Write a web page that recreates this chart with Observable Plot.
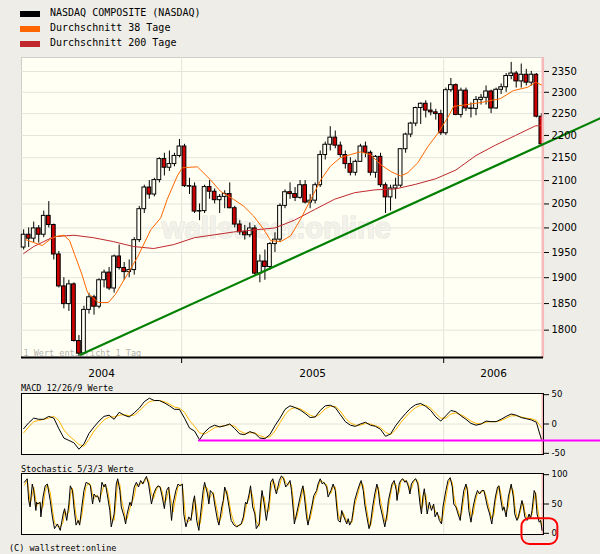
<!DOCTYPE html>
<html><head><meta charset="utf-8">
<script src="https://cdn.jsdelivr.net/npm/d3@7"></script>
<script src="https://cdn.jsdelivr.net/npm/@observablehq/plot@0.6"></script>
<style>
html,body{margin:0;padding:0;background:#eeede7;}
#wrap{position:relative;width:600px;height:554px;overflow:hidden;background:#eeede7;}
.abs{position:absolute;}
.mono{font-family:"DejaVu Sans Mono",monospace;color:#000;white-space:nowrap;}
svg{overflow:visible;}
</style></head>
<body><div id="wrap"></div>
<script>
// ---------- DATA ----------
const legendNames = ["NASDAQ COMPOSITE (NASDAQ)", "Durchschnitt 38 Tage", "Durchschnitt 200 Tage"];
const legendColors = ["#000000", "#ff6600", "#c0282d"];

const weekDates = [
"2004-05-26","2004-06-02","2004-06-09","2004-06-16","2004-06-23","2004-06-30","2004-07-07","2004-07-14","2004-07-21","2004-07-28",
"2004-08-04","2004-08-11","2004-08-18","2004-08-25","2004-09-01","2004-09-08","2004-09-15","2004-09-22","2004-09-29","2004-10-06",
"2004-10-13","2004-10-20","2004-10-27","2004-11-03","2004-11-10","2004-11-17","2004-11-24","2004-12-01","2004-12-08","2004-12-15",
"2004-12-22","2004-12-29","2005-01-05","2005-01-12","2005-01-19","2005-01-26","2005-02-02","2005-02-09","2005-02-16","2005-02-23",
"2005-03-02","2005-03-09","2005-03-16","2005-03-23","2005-03-30","2005-04-06","2005-04-13","2005-04-20","2005-04-27","2005-05-04",
"2005-05-11","2005-05-18","2005-05-25","2005-06-01","2005-06-08","2005-06-15","2005-06-22","2005-06-29","2005-07-06","2005-07-13",
"2005-07-20","2005-07-27","2005-08-03","2005-08-10","2005-08-17","2005-08-24","2005-08-31","2005-09-07","2005-09-14","2005-09-21",
"2005-09-28","2005-10-05","2005-10-12","2005-10-19","2005-10-26","2005-11-02","2005-11-09","2005-11-16","2005-11-23","2005-11-30",
"2005-12-07","2005-12-14","2005-12-21","2005-12-28","2006-01-04","2006-01-11","2006-01-18","2006-01-25","2006-02-01","2006-02-08",
"2006-02-15","2006-02-22","2006-03-01","2006-03-08","2006-03-15","2006-03-22","2006-03-29","2006-04-05","2006-04-12","2006-04-19",
"2006-04-26","2006-05-03","2006-05-10","2006-05-17"];

const priceOpen = [1960,1986,1978,1999,1986,2025,2006,1946,1883,1849,1887,1780,1757,1838,1862,1844,1895,1910,1879,1942,
1919,1911,1915,1975,2039,2085,2070,2101,2147,2128,2136,2154,2175,2088,2087,2034,2035,2086,2076,2058,
2065,2071,2041,2007,1991,1985,1999,1908,1932,1921,1967,1976,2046,2075,2071,2063,2090,2053,2057,2090,
2156,2179,2195,2177,2156,2136,2117,2141,2175,2161,2117,2152,2090,2064,2083,2089,2169,2202,2227,2263,
2273,2257,2253,2249,2205,2305,2317,2247,2304,2262,2261,2282,2287,2302,2262,2306,2312,2339,2345,2326,
2342,2323,2342,2243];
const priceHigh = [1996,2000,2012,2005,2035,2055,2008,1952,1900,1895,1890,1790,1845,1870,1866,1898,1915,1920,1945,1965,
1930,1935,1980,2045,2090,2100,2105,2150,2160,2165,2160,2191,2180,2105,2095,2050,2090,2100,2082,2070,
2078,2095,2045,2015,2005,2010,2005,1945,1955,1970,1990,2050,2080,2095,2085,2100,2100,2070,2095,2165,
2185,2220,2210,2185,2165,2150,2145,2180,2185,2165,2155,2160,2095,2090,2105,2170,2205,2230,2265,2275,
2280,2275,2260,2258,2310,2333,2320,2310,2310,2275,2290,2295,2315,2305,2310,2320,2345,2372,2350,2368,
2355,2350,2345,2250];
const priceLow = [1955,1960,1970,1969,1980,2000,1935,1880,1840,1835,1778,1752,1755,1830,1828,1840,1880,1875,1870,1915,
1895,1900,1905,1970,2030,2060,2065,2095,2110,2120,2130,2150,2085,2070,2030,2015,2030,2060,2050,2030,
2040,2040,2000,1985,1975,1980,1905,1890,1895,1915,1950,1970,2040,2060,2055,2060,2050,2040,2050,2085,
2145,2165,2170,2150,2125,2110,2110,2140,2150,2110,2105,2085,2030,2035,2060,2085,2160,2195,2220,2225,
2240,2245,2235,2200,2200,2300,2245,2240,2255,2240,2245,2270,2270,2250,2260,2295,2300,2330,2310,2310,
2315,2315,2240,2175];
const priceClose = [1986,1978,1999,1986,2025,2006,1946,1883,1849,1887,1780,1757,1838,1862,1844,1895,1910,1879,1942,1919,
1911,1915,1975,2039,2085,2070,2101,2147,2128,2136,2154,2175,2088,2087,2034,2035,2086,2076,2058,2065,
2071,2041,2007,1991,1985,1999,1908,1932,1921,1967,1976,2046,2075,2071,2063,2090,2053,2057,2090,2156,
2179,2195,2177,2156,2136,2117,2141,2175,2161,2117,2152,2090,2064,2083,2089,2169,2202,2227,2263,2273,
2257,2253,2249,2205,2305,2317,2247,2304,2262,2261,2282,2287,2302,2262,2306,2312,2339,2345,2326,2342,
2323,2342,2243,2180];

// day offsets relative to 2005-01-01
const ma38Days = [-217,-206,-194,-182,-173,-164,-156,-149,-139,-131,-116,-102,-92,-75,-61,-43,-29,-20,-6,1,
22,40,54,72,86,100,114,124,138,152,166,180,194,207,221,235,249,263,277,291,305,315,329,343,357,371,379,393,417,444,462,482,493,503];
const ma38 = [1976,1970,1964,1978,1983,1985,1974,1946,1907,1871,1852,1852,1868,1908,1942,1996,2021,2060,2110,2128,
2130,2102,2077,2060,2046,2025,1998,1974,1972,1984,2019,2060,2102,2131,2150,2157,2163,2157,2135,2120,2110,2117,2139,2175,2205,2242,2267,2270,2276,2285,2304,2312,2324,2316];
const ma200Days = [-220,-206,-192,-178,-150,-123,-95,-67,-39,-11,18,46,74,102,130,157,185,213,241,269,298,326,354,382,410,437,465,493,503];
const ma200 = [1948,1962,1972,1982,1985,1980,1972,1962,1958,1966,1980,1986,1992,1996,2000,2016,2038,2060,2074,2080,2082,2092,2104,2123,2155,2178,2200,2222,2222];

const trendDays = [-141, 584];
const trendValues = [1755, 2240];

const macd = [-8,2,10,8,8,13,10,-8,-24,-28,-32,-43,-34,-16,-5,5,13,15,8,20,
15,12,19,27,38,44,40,40,36,31,25,25,10,-7,-12,-27,-14,-6,-2,-5,
-3,0,-8,-17,-18,-13,-16,-24,-25,-18,-3,10,25,31,28,24,18,11,12,23,
31,32,28,16,4,-2,-4,0,3,-2,-4,-9,-21,-17,-3,8,18,27,33,35,
30,23,12,5,14,23,21,14,8,1,-2,0,5,4,4,8,13,17,15,11,9,7,3,-26];
const macdSignal = [-15,-5,4,6,8,10,13,6,-10,-20,-27,-35,-38,-26,-12,-2,7,12,12,15,
16,14,15,22,31,38,40,40,38,34,29,27,20,6,-4,-15,-17,-12,-6,-4,
-3,-1,-4,-12,-16,-15,-15,-20,-23,-22,-12,2,16,25,28,26,21,15,12,17,
26,30,30,22,10,2,-2,-2,1,0,-3,-6,-14,-18,-10,2,12,21,28,32,
32,27,18,10,10,17,19,16,11,5,1,0,3,4,4,6,10,14,14,12,10,9,6,-6];
const macdLineDays = [24, 584];
const macdLineValues = [-28, -28];

const stochDays = [-219,-215,-213,-211,-208,-206,-203,-202,-200,-197,-196,-193,-190,-187,-183,-180,-177,-173,-169,-165,
-163,-160,-157,-155,-152,-150,-147,-144,-142,-139,-136,-133,-129,-127,-124,-122,-119,-117,-114,-111,
-108,-106,-103,-100,-98,-94,-91,-89,-86,-84,-80,-78,-76,-72,-70,-66,-63,-60,-57,-54,
-52,-49,-46,-42,-39,-36,-33,-30,-27,-24,-21,-18,-14,-12,-8,-5,-2,1,3,6,
10,13,16,18,21,24,26,30,32,36,38,40,44,46,50,52,56,58,60,63,
66,69,73,77,80,83,86,89,91,94,96,99,102,104,108,110,112,115,118,122,
124,127,130,132,136,139,142,145,148,151,153,156,157,160,163,167,169,171,174,176,
179,182,184,188,190,193,196,198,202,204,208,211,214,216,218,221,223,225,228,230,
232,234,237,239,241,245,248,250,253,255,258,261,263,266,269,272,274,276,280,283,
286,288,291,293,296,299,300,303,305,308,311,313,316,318,320,323,326,329,332,334,
336,338,340,342,345,348,351,353,356,359,362,364,368,371,374,377,379,382,385,388,
390,393,396,398,400,403,406,409,412,415,418,421,423,426,429,432,435,437,440,442,
444,447,449,452,455,457,459,462,464,467,469,471,474,476,478,481,484,486,488,491,
493,495,498,500,502];
const stochK = [87,93,56,45,84,73,39,53,50,53,28,62,81,84,56,28,8,16,5,33,
42,22,50,81,73,45,14,22,14,45,73,87,84,81,50,67,62,64,53,87,
79,84,62,39,11,33,84,93,73,45,28,16,33,53,47,79,87,79,90,84,
90,97,84,50,67,76,81,79,62,42,73,79,22,50,73,84,81,84,33,11,
28,22,53,64,22,5,28,73,87,67,50,73,67,50,22,14,45,56,79,67,
45,22,14,11,14,16,28,53,50,67,81,45,33,8,16,50,73,50,22,56,
87,93,76,67,90,98,93,79,84,90,73,33,16,33,50,73,81,62,28,14,
33,50,64,73,84,93,84,87,79,62,73,84,73,45,22,19,39,31,22,16,
25,14,22,39,56,73,84,90,73,50,28,8,16,45,67,84,73,50,28,11,
33,56,73,84,90,73,56,84,90,93,87,90,79,67,84,90,93,84,50,33,
62,76,56,33,53,39,50,28,36,22,16,45,73,90,95,79,50,45,33,22,
45,73,84,73,39,19,45,62,73,67,73,73,62,45,33,16,45,62,79,81,
62,39,45,28,62,73,84,62,33,22,28,39,56,45,28,22,33,25,39,73,
67,33,19,22,5];
const stochD = [82,90,75,51,65,79,56,46,52,52,41,45,72,83,70,42,18,12,11,19,
38,32,36,66,77,59,30,18,18,30,59,80,86,83,66,59,65,63,59,70,
83,82,73,51,25,22,59,89,83,59,37,22,25,43,50,63,83,83,85,87,
87,94,91,67,59,72,79,80,71,52,58,76,51,36,62,79,83,83,59,22,
20,25,38,59,43,14,17,51,80,77,59,62,70,59,36,18,30,51,68,73,
56,34,18,13,13,15,22,41,52,59,74,63,39,21,12,33,62,62,36,39,
72,90,85,72,79,94,96,86,82,87,82,53,25,25,42,62,77,72,45,21,
24,42,57,69,79,89,89,86,83,71,68,79,79,59,34,21,29,35,27,19,
21,20,18,31,48,65,79,87,82,62,39,18,12,31,56,76,79,62,39,20,
22,45,65,79,87,82,65,70,87,92,90,89,85,73,76,87,92,89,67,42,
48,69,66,45,43,46,45,39,32,29,19,31,59,82,93,87,65,48,39,28,
34,59,79,79,56,29,32,54,68,70,70,73,68,54,39,25,31,54,71,80,
72,51,42,37,45,68,79,73,48,28,25,34,48,51,37,25,28,29,32,56,
70,50,26,21,14];
const markDays = [474, 524];
const markValues = [25, -19];

const priceTicks = [1800,1850,1900,1950,2000,2050,2100,2150,2200,2250,2300,2350];
const macdTicks = [-50, 0, 50];
const stochTicks = [0, 50, 100];
const yearTicks = ["2005-01-01", "2006-01-01"];
const yearLabels = ["2004", "2005", "2006"];

// ---------- BUILD ----------
const BASE = Date.UTC(2005, 0, 1);
const dayToDate = d => new Date(BASE + d * 86400000);
const iso = s => new Date(s + "T00:00:00Z");
const xDomain = [dayToDate(-223), dayToDate(504)];
const lastDate = dayToDate(503);
const yearTickDates = yearTicks.map(iso);

const candles = weekDates.map((s, i) => ({date: iso(s), open: priceOpen[i], high: priceHigh[i], low: priceLow[i], close: priceClose[i]}));
const ma38Data = ma38Days.map((d, i) => ({date: dayToDate(d), v: ma38[i]}));
const ma200Data = ma200Days.map((d, i) => ({date: dayToDate(d), v: ma200[i]}));
const trendData = trendDays.map((d, i) => ({date: dayToDate(d), v: trendValues[i]}));
const macdData = weekDates.map((s, i) => ({date: iso(s), m: macd[i], s: macdSignal[i]}));
const macdLine = macdLineDays.map((d, i) => ({date: dayToDate(d), v: macdLineValues[i]}));
const nS = Math.min(stochDays.length, stochK.length, stochD.length);
const stochData = d3.range(nS).map(i => ({date: dayToDate(stochDays[i]), k: stochK[i], d: stochD[i]}));
const markRect = [{x1: dayToDate(markDays[0]), x2: dayToDate(markDays[1]), y1: markValues[0], y2: markValues[1]}];

// year label positions: middle of the visible part of each year
const yearBounds = [xDomain[0], ...yearTickDates, xDomain[1]];
const yearLabelData = yearLabels.map((t, i) => ({t, date: new Date((+yearBounds[i] + +yearBounds[i + 1]) / 2)}));

const CREAM = "#fffff3";
const GRID = "#e4e4dc";
const PINK = "#f6b8b8";
const GOLD = "#ffb400";
const half = 2.6 * 86400000;

const wrap = document.getElementById("wrap");
function place(node, top) {
  node.style.position = "absolute";
  node.style.left = "0px";
  node.style.top = top + "px";
  wrap.appendChild(node);
}

// main price chart
const main = Plot.plot({
  width: 600, height: 385,
  marginTop: 57, marginBottom: 28, marginLeft: 21, marginRight: 57,
  style: {background: "transparent", fontFamily: "DejaVu Sans", fontSize: "10px", color: "#000", overflow: "visible"},
  x: {type: "utc", domain: xDomain, axis: null},
  y: {type: "log", domain: [1750, 2384], axis: null},
  marks: [
    Plot.frame({fill: CREAM, stroke: "#cfcfc8"}),
    Plot.gridY(priceTicks, {stroke: GRID, strokeOpacity: 1}),
    Plot.gridX(yearTickDates, {stroke: GRID, strokeOpacity: 1}),
    Plot.text(["wallstreet:online"], {frameAnchor: "middle", dx: -6, dy: 21, fontSize: 29, fontWeight: "bold",
      fontFamily: "Liberation Sans", fill: "#f3f2ea", stroke: "#e5e4db", strokeWidth: 1.2}),
    Plot.text(["1 Wert entspricht 1 Tag"], {frameAnchor: "bottom-left", dx: 2, dy: -2, fontSize: 8.5,
      fontFamily: "DejaVu Sans Mono", fill: "#b4b4b0"}),
    Plot.ruleX(candles, {x: "date", y1: "low", y2: "high", stroke: "#000", strokeWidth: 1}),
    Plot.rect(candles, {x1: d => new Date(+d.date - half), x2: d => new Date(+d.date + half),
      y1: "open", y2: "close", fill: d => d.close < d.open ? "#cc0000" : CREAM, stroke: "#000", strokeWidth: 1}),
    Plot.line(ma200Data, {x: "date", y: "v", stroke: "#c0282d", strokeWidth: 1}),
    Plot.line(ma38Data, {x: "date", y: "v", stroke: "#ff6600", strokeWidth: 1}),
    Plot.ruleX([lastDate], {stroke: PINK, strokeWidth: 2.5}),
    Plot.ruleY([1750], {stroke: "#000", strokeWidth: 2}),
    Plot.line(trendData, {x: "date", y: "v", stroke: "#008000", strokeWidth: 2.2}),
    Plot.axisY(priceTicks, {anchor: "right", tickSize: 5, tickPadding: 3, label: null, tickFormat: d => String(d)}),
    Plot.axisX(yearTickDates, {anchor: "bottom", tickSize: 6, tickFormat: () => "", label: null}),
    Plot.text(yearLabelData, {x: "date", text: "t", frameAnchor: "bottom", dy: 19, fontSize: 10.5})
  ]
});
place(main, 0);

// MACD panel
const macdPlot = Plot.plot({
  width: 600, height: 80,
  marginTop: 13, marginBottom: 6, marginLeft: 21, marginRight: 57,
  style: {background: "transparent", fontFamily: "DejaVu Sans", fontSize: "8.5px", color: "#000", overflow: "visible"},
  x: {type: "utc", domain: xDomain, axis: null},
  y: {domain: [-52, 52], axis: null},
  marks: [
    Plot.frame({fill: CREAM}),
    Plot.gridY([0], {stroke: GRID, strokeOpacity: 1}),
    Plot.gridX(yearTickDates, {stroke: GRID, strokeOpacity: 1}),
    Plot.ruleX([lastDate], {stroke: PINK, strokeWidth: 2.5}),
    Plot.line(macdData, {x: "date", y: "s", stroke: GOLD, strokeWidth: 1}),
    Plot.line(macdData, {x: "date", y: "m", stroke: "#000", strokeWidth: 1}),
    Plot.frame({stroke: "#000"}),
    Plot.line(macdLine, {x: "date", y: "v", stroke: "#ff00ff", strokeWidth: 2}),
    Plot.axisY(macdTicks, {anchor: "right", tickSize: 5, tickPadding: 3, label: null, tickFormat: d => String(d)})
  ]
});
place(macdPlot, 380);

// Stochastic panel
const stochPlot = Plot.plot({
  width: 600, height: 78,
  marginTop: 11, marginBottom: 6, marginLeft: 21, marginRight: 57,
  style: {background: "transparent", fontFamily: "DejaVu Sans", fontSize: "8.5px", color: "#000", overflow: "visible"},
  x: {type: "utc", domain: xDomain, axis: null},
  y: {domain: [-2, 102], axis: null},
  marks: [
    Plot.frame({fill: CREAM}),
    Plot.gridY([50], {stroke: GRID, strokeOpacity: 1}),
    Plot.gridX(yearTickDates, {stroke: GRID, strokeOpacity: 1}),
    Plot.ruleX([lastDate], {stroke: PINK, strokeWidth: 2.5}),
    Plot.line(stochData, {x: "date", y: "d", stroke: GOLD, strokeWidth: 1}),
    Plot.line(stochData, {x: "date", y: "k", stroke: "#000", strokeWidth: 1}),
    Plot.frame({stroke: "#000"}),
    Plot.axisY(stochTicks, {anchor: "right", tickSize: 5, tickPadding: 3, label: null, tickFormat: d => String(d)}),
    Plot.rect(markRect, {x1: "x1", x2: "x2", y1: "y1", y2: "y2", rx: 8, ry: 8, fill: "none", stroke: "#ff0000", strokeWidth: 2})
  ]
});
place(stochPlot, 462);

// legend & texts (HTML)
legendNames.forEach((name, i) => {
  const sw = document.createElement("div");
  sw.className = "abs";
  sw.style.cssText = `left:20px;top:${11 + i * 15}px;width:20px;height:6px;background:${legendColors[i]};`;
  wrap.appendChild(sw);
  const tx = document.createElement("div");
  tx.className = "abs mono";
  tx.style.cssText += `left:50px;top:${7 + i * 15}px;font-size:10px;line-height:12px;`;
  tx.textContent = name;
  wrap.appendChild(tx);
});
function label(text, left, top, size) {
  const el = document.createElement("div");
  el.className = "abs mono";
  el.style.cssText += `left:${left}px;top:${top}px;font-size:${size}px;line-height:10px;`;
  el.textContent = text;
  wrap.appendChild(el);
}
label("MACD 12/26/9 Werte", 21, 383, 8.5);
label("Stochastic 5/3/3 Werte", 21, 464, 8.5);
label("(C) wallstreet:online", 9, 543, 8.5);
</script>
</body></html>
